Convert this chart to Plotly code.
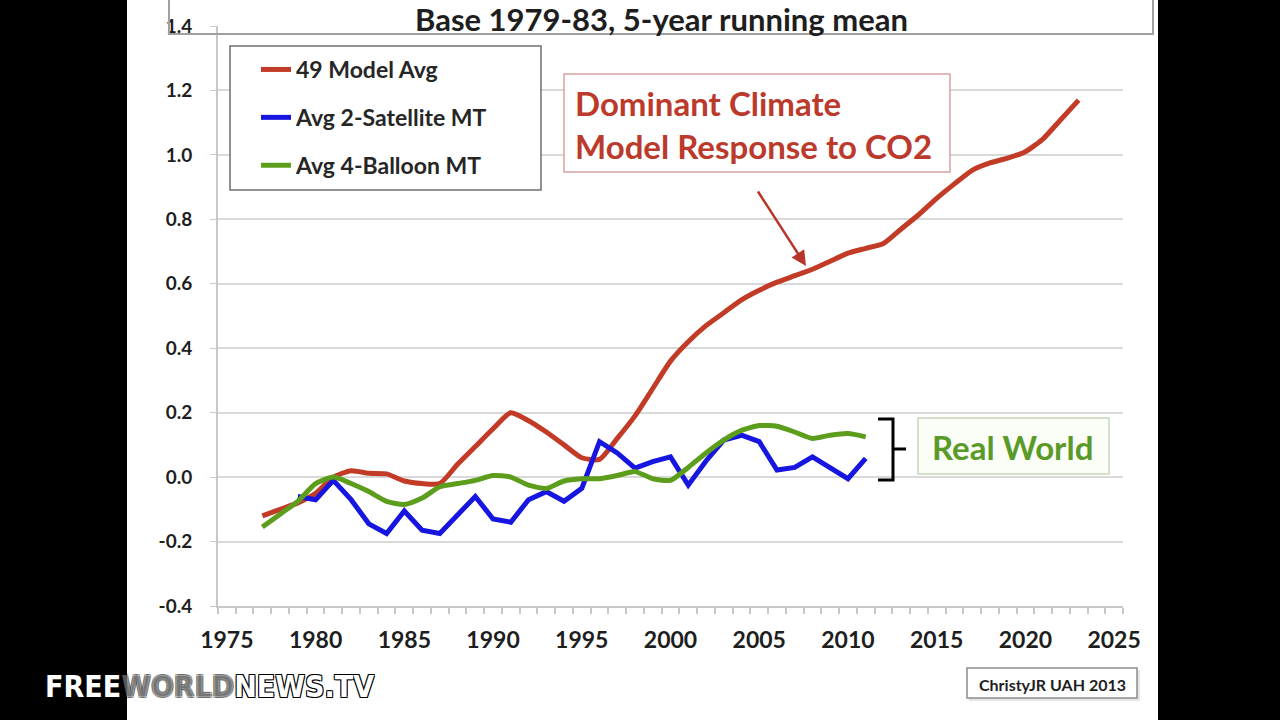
import plotly.graph_objects as go

# ---------------- data ----------------
years_model = list(range(1977, 2024))
model_avg = [-0.12, -0.10, -0.08, -0.05, 0.00, 0.02, 0.012, 0.01, -0.012, -0.02,
             -0.02, 0.04, 0.095, 0.15, 0.20, 0.175, 0.14, 0.10, 0.06, 0.055,
             0.12, 0.19, 0.275, 0.36, 0.42, 0.47, 0.51, 0.55, 0.58, 0.605,
             0.625, 0.645, 0.67, 0.695, 0.71, 0.725, 0.77, 0.815, 0.865, 0.91,
             0.952, 0.975, 0.99, 1.01, 1.05, 1.11, 1.17]

years_sat = list(range(1979, 2012))
satellite = [-0.06, -0.07, -0.01, -0.07, -0.145, -0.175, -0.105, -0.165, -0.175, -0.12,
             -0.06, -0.13, -0.14, -0.07, -0.045, -0.075, -0.035, 0.11, 0.075, 0.028,
             0.048, 0.063, -0.025, 0.05, 0.115, 0.13, 0.11, 0.022, 0.03, 0.063,
             0.03, -0.005, 0.058]

years_balloon = list(range(1977, 2012))
balloon = [-0.155, -0.115, -0.075, -0.02, 0.0, -0.02, -0.045, -0.075, -0.085, -0.065,
           -0.03, -0.02, -0.01, 0.005, 0.0, -0.025, -0.035, -0.012, -0.005, -0.005,
           0.005, 0.017, -0.005, -0.01, 0.03, 0.075, 0.115, 0.145, 0.16, 0.158,
           0.14, 0.12, 0.13, 0.135, 0.125]

x_ticks = [1975, 1980, 1985, 1990, 1995, 2000, 2005, 2010, 2015, 2020, 2025]
y_ticks = [-0.4, -0.2, 0.0, 0.2, 0.4, 0.6, 0.8, 1.0, 1.2, 1.4]

names = ["49 Model Avg", "Avg 2-Satellite MT", "Avg 4-Balloon MT"]
colors = ["#c23b26", "#1616e0", "#5c9e1c"]

# ---------------- layout geometry (pixels) ----------------
W, H = 1280, 720
L, R, T, B = 218, 157, 26, 114
PW, PH = W - L - R, H - T - B


def px(x):
    return (x - L) / PW


def py(y):
    return (H - B - y) / PH


FONT = "Lato"

fig = go.Figure()
fig.add_trace(go.Scatter(x=years_model, y=model_avg, name=names[0], mode="lines",
                         line=dict(color=colors[0], width=5, shape="spline", smoothing=0.6),
                         legendgroup="a"))
fig.add_trace(go.Scatter(x=years_sat, y=satellite, name=names[1], mode="lines",
                         line=dict(color=colors[1], width=5), legendgroup="b"))
fig.add_trace(go.Scatter(x=years_balloon, y=balloon, name=names[2], mode="lines",
                         line=dict(color=colors[2], width=5, shape="spline", smoothing=0.6),
                         legendgroup="c"))

shapes = []
# white slide
shapes.append(dict(type="rect", xref="paper", yref="paper", x0=px(127), x1=px(1158),
                   y0=py(725), y1=py(-5), fillcolor="white", line=dict(width=0), layer="below"))
# title box
shapes.append(dict(type="rect", xref="paper", yref="paper", x0=px(169), x1=px(1153),
                   y0=py(34), y1=py(-5), fillcolor="rgba(0,0,0,0)",
                   line=dict(color="#a0a0a0", width=2), layer="above"))
# legend box
shapes.append(dict(type="rect", xref="paper", yref="paper", x0=px(230), x1=px(541),
                   y0=py(190), y1=py(46), fillcolor="white",
                   line=dict(color="#6e6e6e", width=1.5), layer="above"))
# annotation box
shapes.append(dict(type="rect", xref="paper", yref="paper", x0=px(564), x1=px(950),
                   y0=py(172), y1=py(74), fillcolor="white",
                   line=dict(color="#d9a3a3", width=1.5), layer="above"))
# real world box
shapes.append(dict(type="rect", xref="paper", yref="paper", x0=px(918), x1=px(1109),
                   y0=py(474), y1=py(418), fillcolor="#fbfdf7",
                   line=dict(color="#c9d6bd", width=1.5), layer="above"))
# bracket
bx0, bx1, bx2 = px(878), px(893), px(906)
by0, by1, bym = py(419), py(480), py(449)
shapes.append(dict(type="path", xref="paper", yref="paper",
                   path=f"M {bx0} {by0} L {bx1} {by0} L {bx1} {by1} L {bx0} {by1} M {bx1} {bym} L {bx2} {bym}",
                   line=dict(color="black", width=3), layer="above"))
# credit box
shapes.append(dict(type="rect", xref="paper", yref="paper", x0=px(969), x1=px(1140),
                   y0=py(701), y1=py(670), fillcolor="#e6e6e6",
                   line=dict(width=0), layer="above"))
shapes.append(dict(type="rect", xref="paper", yref="paper", x0=px(967), x1=px(1137),
                   y0=py(698), y1=py(668), fillcolor="white",
                   line=dict(color="#8c8c8c", width=1.5), layer="above"))

annotations = []
annotations.append(dict(xref="paper", yref="paper", x=px(661), y=py(19), text="<b>Base 1979-83, 5-year running mean</b>",
                        showarrow=False, xanchor="center", yanchor="middle", borderpad=0,
                        font=dict(family=FONT, size=31, color="#1e1e1e")))
annotations.append(dict(xref="paper", yref="paper", x=px(573), y=py(125),
                        text="<b>Dominant Climate<br>Model Response to CO2</b>",
                        showarrow=False, xanchor="left", yanchor="middle", align="left",
                        font=dict(family=FONT, size=33, color="#bb3a2c")))
annotations.append(dict(xref="paper", yref="paper", x=px(806), y=py(266), ax=-49, ay=-76,
                        text="", showarrow=True, arrowhead=2, arrowsize=1.2, arrowwidth=2.5,
                        arrowcolor="#b8352a"))
annotations.append(dict(xref="paper", yref="paper", x=px(1012), y=py(447), text="<b>Real World</b>",
                        showarrow=False, xanchor="center", yanchor="middle",
                        font=dict(family=FONT, size=33, color="#5a9a28")))
annotations.append(dict(xref="paper", yref="paper", x=px(1052), y=py(684), text="<b>ChristyJR UAH 2013</b>",
                        showarrow=False, xanchor="center", yanchor="middle",
                        font=dict(family=FONT, size=16, color="#1e1e1e")))
annotations.append(dict(xref="paper", yref="paper", x=px(43), y=py(686),
                        text="<b>FREE<span style='color:rgba(255,255,255,0.35)'>WORLD</span>NEWS.TV</b>",
                        showarrow=False, xanchor="left", yanchor="middle",
                        font=dict(family="DejaVu Sans Condensed", size=30, color="white",
                                  shadow="1px 1px 0px black, -1px -1px 0px black, 1px -1px 0px black, -1px 1px 0px black")))

fig.update_layout(
    width=W, height=H,
    margin=dict(l=L, r=R, t=T, b=B, autoexpand=False),
    paper_bgcolor="black", plot_bgcolor="white",
    showlegend=True,
    legend=dict(x=px(256), y=py(48), xanchor="left", yanchor="top",
                bgcolor="rgba(0,0,0,0)", borderwidth=0,
                font=dict(family=FONT, size=23, color="#262626", weight="bold"),
                traceorder="grouped", tracegroupgap=15, itemwidth=30),
    shapes=shapes, annotations=annotations,
    xaxis=dict(range=[1974.5, 2025.5], tickmode="array", tickvals=x_ticks,
               ticktext=[f"<b>{v}</b>" for v in x_ticks], ticks="",
               showgrid=False, zeroline=False, showline=True, linecolor="#c8c8c8", linewidth=2,
               tickfont=dict(family=FONT, size=23, color="#1e1e1e"), ticklabelstandoff=12,
               minor=dict(tick0=1974.5, dtick=1, ticks="outside", ticklen=6, tickcolor="#c8c8c8",
                          tickwidth=1.5, showgrid=False)),
    yaxis=dict(range=[-0.4, 1.4], tickmode="array", tickvals=y_ticks,
               ticktext=[f"<b>{v:.1f}</b>" for v in y_ticks], ticks="outside", ticklen=6,
               tickcolor="#c8c8c8", showgrid=True, gridcolor="#d9d9d9", gridwidth=2,
               zeroline=False, showline=True, linecolor="#c8c8c8", linewidth=2,
               tickfont=dict(family=FONT, size=19, color="#1e1e1e"), ticklabelstandoff=14),
)

fig.write_html("out.html", config={"displayModeBar": False},
               post_script="document.body.style.margin='0';document.body.style.overflow='hidden';")
